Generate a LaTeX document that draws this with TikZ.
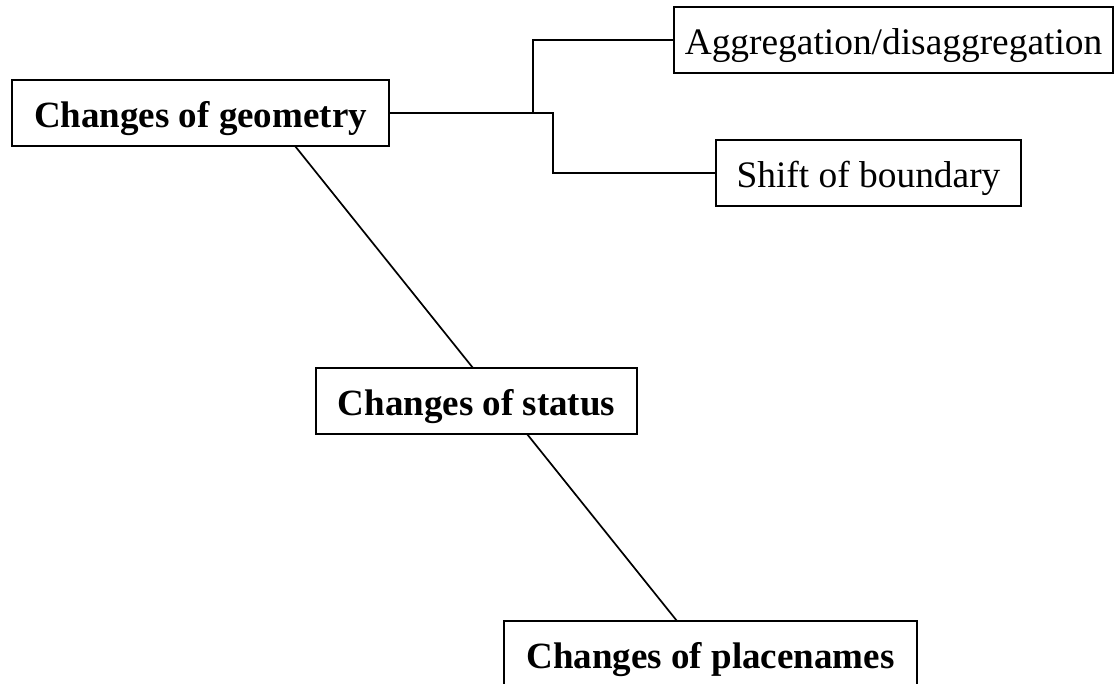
\documentclass[tikz,border=0pt]{standalone}
\usepackage{fontspec}
\setmainfont{Liberation Serif}
\begin{document}
\begin{tikzpicture}[x=1pt,y=1pt,
  box/.style={draw,line width=1.8pt,inner sep=0pt,minimum height=66pt,
    text height=37pt,text depth=8pt,
    font=\fontsize{37.4}{40}\selectfont},
  hbox/.style={box,font=\fontsize{37}{40}\selectfont\bfseries},
  conn/.style={line width=1.7pt}]
\useasboundingbox (0,0) rectangle (1118,-684);
\node[hbox,minimum width=377pt] (geo) at (200.5,-113) {Changes of geometry};
\node[box,minimum width=439pt] (agg) at (893.5,-40) {Aggregation/disaggregation};
\node[box,minimum width=305pt] (shift) at (868.5,-173) {Shift of boundary};
\node[hbox,minimum width=321pt] (status) at (476.5,-401) {Changes of status};
\node[hbox,minimum width=413pt] (place) at (710.5,-654) {Changes of placenames};
\coordinate (j1) at (533,-113);
\coordinate (j2) at (553,-113);
\coordinate (g1) at (295,-146);
\coordinate (s1) at (473,-368);
\coordinate (s2) at (527,-434);
\coordinate (p1) at (677,-621);
\draw[conn] (geo.east) -- (j2) |- (shift.west);
\draw[conn] (j1) |- (agg.west);
\draw[conn] (g1) -- (s1);
\draw[conn] (s2) -- (p1);
\end{tikzpicture}
\end{document}
